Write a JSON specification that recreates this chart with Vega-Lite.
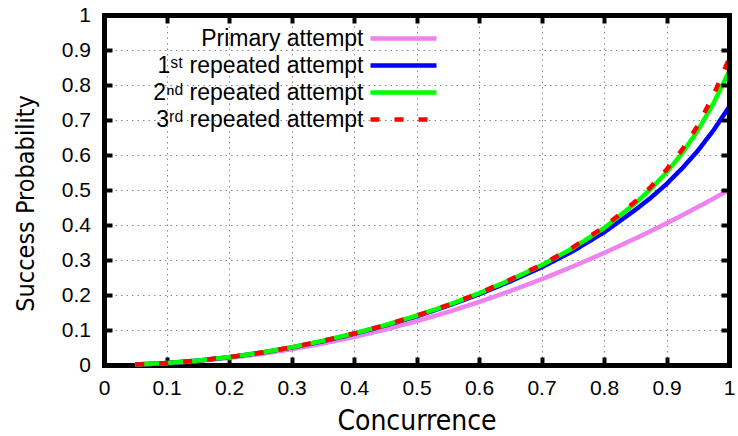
{
  "$schema": "https://vega.github.io/schema/vega-lite/v6.json",
  "width": 625,
  "height": 350,
  "autosize": {"type": "none"},
  "padding": {"left": 104, "top": 15, "right": 9, "bottom": 71},
  "background": "white",
  "config": {
    "view": {"stroke": null},
    "legend": {
      "orient": "none",
      "legendX": 286,
      "legendY": 10,
      "padding": 0,
      "labelAlign": "right",
      "labelOffset": -53.5,
      "labelFont": "Liberation Sans",
      "labelFontSize": 23,
      "labelColor": "black",
      "labelLimit": 0,
      "labelBaseline": "middle",
      "symbolType": "M -3 0 L 3 0",
      "symbolSize": 484,
      "symbolStrokeWidth": 4.5,
      "rowPadding": 1
    }
  },
  "data": {
    "values": [
      {"c": 0.05, "p": 0.0013, "s": "Primary attempt"},
      {"c": 0.1, "p": 0.005, "s": "Primary attempt"},
      {"c": 0.15, "p": 0.0113, "s": "Primary attempt"},
      {"c": 0.2, "p": 0.02, "s": "Primary attempt"},
      {"c": 0.25, "p": 0.0313, "s": "Primary attempt"},
      {"c": 0.3, "p": 0.045, "s": "Primary attempt"},
      {"c": 0.35, "p": 0.0613, "s": "Primary attempt"},
      {"c": 0.4, "p": 0.08, "s": "Primary attempt"},
      {"c": 0.45, "p": 0.1013, "s": "Primary attempt"},
      {"c": 0.5, "p": 0.125, "s": "Primary attempt"},
      {"c": 0.55, "p": 0.1513, "s": "Primary attempt"},
      {"c": 0.6, "p": 0.18, "s": "Primary attempt"},
      {"c": 0.65, "p": 0.2113, "s": "Primary attempt"},
      {"c": 0.7, "p": 0.245, "s": "Primary attempt"},
      {"c": 0.75, "p": 0.2813, "s": "Primary attempt"},
      {"c": 0.8, "p": 0.32, "s": "Primary attempt"},
      {"c": 0.85, "p": 0.3613, "s": "Primary attempt"},
      {"c": 0.875, "p": 0.3828, "s": "Primary attempt"},
      {"c": 0.9, "p": 0.405, "s": "Primary attempt"},
      {"c": 0.925, "p": 0.4278, "s": "Primary attempt"},
      {"c": 0.95, "p": 0.4513, "s": "Primary attempt"},
      {"c": 0.975, "p": 0.4753, "s": "Primary attempt"},
      {"c": 1.0, "p": 0.5, "s": "Primary attempt"},

      {"c": 0.05, "p": 0.0014, "s": "1ˢᵗ repeated attempt"},
      {"c": 0.1, "p": 0.0056, "s": "1ˢᵗ repeated attempt"},
      {"c": 0.15, "p": 0.0125, "s": "1ˢᵗ repeated attempt"},
      {"c": 0.2, "p": 0.0222, "s": "1ˢᵗ repeated attempt"},
      {"c": 0.25, "p": 0.0348, "s": "1ˢᵗ repeated attempt"},
      {"c": 0.3, "p": 0.05, "s": "1ˢᵗ repeated attempt"},
      {"c": 0.35, "p": 0.068, "s": "1ˢᵗ repeated attempt"},
      {"c": 0.4, "p": 0.089, "s": "1ˢᵗ repeated attempt"},
      {"c": 0.45, "p": 0.113, "s": "1ˢᵗ repeated attempt"},
      {"c": 0.5, "p": 0.139, "s": "1ˢᵗ repeated attempt"},
      {"c": 0.55, "p": 0.169, "s": "1ˢᵗ repeated attempt"},
      {"c": 0.6, "p": 0.202, "s": "1ˢᵗ repeated attempt"},
      {"c": 0.65, "p": 0.239, "s": "1ˢᵗ repeated attempt"},
      {"c": 0.7, "p": 0.279, "s": "1ˢᵗ repeated attempt"},
      {"c": 0.75, "p": 0.325, "s": "1ˢᵗ repeated attempt"},
      {"c": 0.8, "p": 0.379, "s": "1ˢᵗ repeated attempt"},
      {"c": 0.85, "p": 0.443, "s": "1ˢᵗ repeated attempt"},
      {"c": 0.875, "p": 0.478, "s": "1ˢᵗ repeated attempt"},
      {"c": 0.9, "p": 0.517, "s": "1ˢᵗ repeated attempt"},
      {"c": 0.925, "p": 0.562, "s": "1ˢᵗ repeated attempt"},
      {"c": 0.95, "p": 0.612, "s": "1ˢᵗ repeated attempt"},
      {"c": 0.975, "p": 0.67, "s": "1ˢᵗ repeated attempt"},
      {"c": 1.0, "p": 0.737, "s": "1ˢᵗ repeated attempt"},

      {"c": 0.05, "p": 0.0014, "s": "2ⁿᵈ repeated attempt"},
      {"c": 0.1, "p": 0.0057, "s": "2ⁿᵈ repeated attempt"},
      {"c": 0.15, "p": 0.0127, "s": "2ⁿᵈ repeated attempt"},
      {"c": 0.2, "p": 0.0224, "s": "2ⁿᵈ repeated attempt"},
      {"c": 0.25, "p": 0.035, "s": "2ⁿᵈ repeated attempt"},
      {"c": 0.3, "p": 0.0505, "s": "2ⁿᵈ repeated attempt"},
      {"c": 0.35, "p": 0.069, "s": "2ⁿᵈ repeated attempt"},
      {"c": 0.4, "p": 0.09, "s": "2ⁿᵈ repeated attempt"},
      {"c": 0.45, "p": 0.114, "s": "2ⁿᵈ repeated attempt"},
      {"c": 0.5, "p": 0.141, "s": "2ⁿᵈ repeated attempt"},
      {"c": 0.55, "p": 0.171, "s": "2ⁿᵈ repeated attempt"},
      {"c": 0.6, "p": 0.205, "s": "2ⁿᵈ repeated attempt"},
      {"c": 0.65, "p": 0.243, "s": "2ⁿᵈ repeated attempt"},
      {"c": 0.7, "p": 0.285, "s": "2ⁿᵈ repeated attempt"},
      {"c": 0.75, "p": 0.334, "s": "2ⁿᵈ repeated attempt"},
      {"c": 0.8, "p": 0.391, "s": "2ⁿᵈ repeated attempt"},
      {"c": 0.85, "p": 0.462, "s": "2ⁿᵈ repeated attempt"},
      {"c": 0.875, "p": 0.503, "s": "2ⁿᵈ repeated attempt"},
      {"c": 0.9, "p": 0.55, "s": "2ⁿᵈ repeated attempt"},
      {"c": 0.925, "p": 0.605, "s": "2ⁿᵈ repeated attempt"},
      {"c": 0.95, "p": 0.67, "s": "2ⁿᵈ repeated attempt"},
      {"c": 0.975, "p": 0.747, "s": "2ⁿᵈ repeated attempt"},
      {"c": 1.0, "p": 0.838, "s": "2ⁿᵈ repeated attempt"},

      {"c": 0.05, "p": 0.0014, "s": "3ʳᵈ repeated attempt"},
      {"c": 0.1, "p": 0.0057, "s": "3ʳᵈ repeated attempt"},
      {"c": 0.15, "p": 0.0127, "s": "3ʳᵈ repeated attempt"},
      {"c": 0.2, "p": 0.0224, "s": "3ʳᵈ repeated attempt"},
      {"c": 0.25, "p": 0.035, "s": "3ʳᵈ repeated attempt"},
      {"c": 0.3, "p": 0.0505, "s": "3ʳᵈ repeated attempt"},
      {"c": 0.35, "p": 0.069, "s": "3ʳᵈ repeated attempt"},
      {"c": 0.4, "p": 0.09, "s": "3ʳᵈ repeated attempt"},
      {"c": 0.45, "p": 0.114, "s": "3ʳᵈ repeated attempt"},
      {"c": 0.5, "p": 0.141, "s": "3ʳᵈ repeated attempt"},
      {"c": 0.55, "p": 0.171, "s": "3ʳᵈ repeated attempt"},
      {"c": 0.6, "p": 0.205, "s": "3ʳᵈ repeated attempt"},
      {"c": 0.65, "p": 0.244, "s": "3ʳᵈ repeated attempt"},
      {"c": 0.7, "p": 0.286, "s": "3ʳᵈ repeated attempt"},
      {"c": 0.75, "p": 0.336, "s": "3ʳᵈ repeated attempt"},
      {"c": 0.8, "p": 0.394, "s": "3ʳᵈ repeated attempt"},
      {"c": 0.85, "p": 0.467, "s": "3ʳᵈ repeated attempt"},
      {"c": 0.875, "p": 0.509, "s": "3ʳᵈ repeated attempt"},
      {"c": 0.9, "p": 0.558, "s": "3ʳᵈ repeated attempt"},
      {"c": 0.925, "p": 0.615, "s": "3ʳᵈ repeated attempt"},
      {"c": 0.95, "p": 0.684, "s": "3ʳᵈ repeated attempt"},
      {"c": 0.975, "p": 0.77, "s": "3ʳᵈ repeated attempt"},
      {"c": 1.0, "p": 0.875, "s": "3ʳᵈ repeated attempt"}
    ]
  },
  "layer": [
    {
      "mark": {"type": "line", "strokeWidth": 4.5, "strokeCap": "butt"},
      "encoding": {
        "x": {
          "field": "c", "type": "quantitative",
          "scale": {"domain": [0, 1], "nice": false, "zero": false},
          "axis": {
            "orient": "bottom",
            "values": [0, 0.1, 0.2, 0.3, 0.4, 0.5, 0.6, 0.7, 0.8, 0.9, 1],
            "format": "~g",
            "grid": true, "gridColor": "#888888", "gridDash": [1.5, 4], "gridWidth": 1,
            "domain": true, "domainColor": "black", "domainWidth": 5, "domainCap": "square",
            "ticks": true, "tickSize": -8, "tickWidth": 4, "tickColor": "black",
            "labelFont": "Liberation Sans", "labelFontSize": 21, "labelColor": "black",
            "labelPadding": 20, "labelFlush": false, "labelOverlap": false,
            "title": "Concurrence",
            "titleFont": "DejaVu Sans Condensed", "titleFontSize": 28, "titleFontWeight": "normal",
            "titleColor": "black", "titleBaseline": "alphabetic", "titleAlign": "center",
            "titleX": 312.5, "titleY": 64
          }
        },
        "y": {
          "field": "p", "type": "quantitative",
          "scale": {"domain": [0, 1], "nice": false},
          "axis": {
            "orient": "left",
            "values": [0, 0.1, 0.2, 0.3, 0.4, 0.5, 0.6, 0.7, 0.8, 0.9, 1],
            "format": "~g",
            "grid": true, "gridColor": "#888888", "gridDash": [1.5, 4], "gridWidth": 1,
            "domain": true, "domainColor": "black", "domainWidth": 5, "domainCap": "square",
            "ticks": true, "tickSize": -8, "tickWidth": 4, "tickColor": "black",
            "labelFont": "Liberation Sans", "labelFontSize": 21, "labelColor": "black",
            "labelPadding": 21.5, "labelFlush": false, "labelOverlap": false,
            "title": "Success Probability",
            "titleFont": "DejaVu Sans Condensed", "titleFontSize": 25, "titleFontWeight": "normal",
            "titleColor": "black", "titleBaseline": "alphabetic", "titleAlign": "center",
            "titleAngle": -90, "titleX": -71, "titleY": 188
          }
        },
        "color": {
          "field": "s", "type": "nominal",
          "scale": {
            "domain": ["Primary attempt", "1ˢᵗ repeated attempt", "2ⁿᵈ repeated attempt", "3ʳᵈ repeated attempt"],
            "range": ["#EE82EE", "#0000FF", "#00FF00", "#FF0000"]
          },
          "legend": {"title": null}
        },
        "strokeDash": {
          "field": "s", "type": "nominal",
          "scale": {
            "domain": ["Primary attempt", "1ˢᵗ repeated attempt", "2ⁿᵈ repeated attempt", "3ʳᵈ repeated attempt"],
            "range": [[1, 0], [1, 0], [1, 0], [9, 15]]
          },
          "legend": {"title": null}
        }
      }
    },
    {
      "mark": {"type": "line", "opacity": 0},
      "encoding": {
        "x": {
          "field": "c", "type": "quantitative",
          "scale": {"domain": [0, 1], "nice": false, "zero": false},
          "axis": {
            "orient": "top",
            "values": [0, 0.1, 0.2, 0.3, 0.4, 0.5, 0.6, 0.7, 0.8, 0.9, 1],
            "grid": false, "labels": false, "title": null,
            "domain": true, "domainColor": "black", "domainWidth": 5, "domainCap": "square",
            "ticks": true, "tickSize": -8, "tickWidth": 4, "tickColor": "black",
            "zindex": 1
          }
        },
        "y": {
          "field": "p", "type": "quantitative",
          "scale": {"domain": [0, 1], "nice": false},
          "axis": {
            "orient": "right",
            "values": [0, 0.1, 0.2, 0.3, 0.4, 0.5, 0.6, 0.7, 0.8, 0.9, 1],
            "grid": false, "labels": false, "title": null,
            "domain": true, "domainColor": "black", "domainWidth": 5, "domainCap": "square",
            "ticks": true, "tickSize": -8, "tickWidth": 4, "tickColor": "black",
            "zindex": 1
          }
        },
        "detail": {"field": "s", "type": "nominal"}
      }
    }
  ],
  "resolve": {"axis": {"x": "independent", "y": "independent"}}
}
